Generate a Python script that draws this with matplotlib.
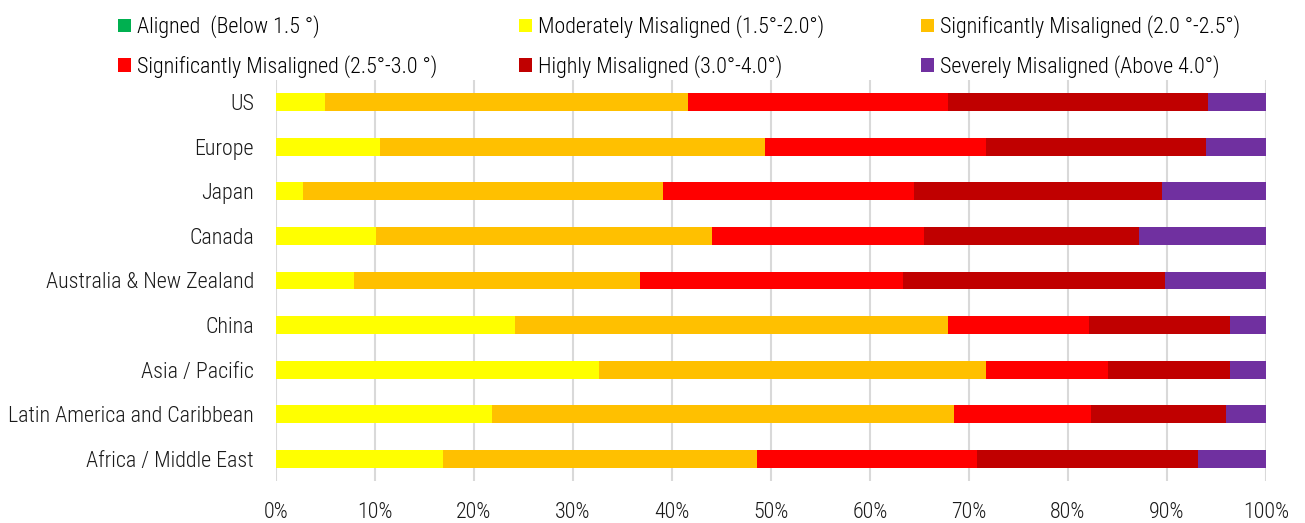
import matplotlib
matplotlib.use("Agg")
import matplotlib.pyplot as plt
from matplotlib.patches import Patch
from matplotlib.font_manager import FontProperties
import numpy as np

plt.rcParams['font.family'] = ['Roboto Condensed', 'DejaVu Sans']
plt.rcParams['font.weight'] = 300

regions = ["US", "Europe", "Japan", "Canada", "Australia & New Zealand", "China",
           "Asia / Pacific", "Latin America and Caribbean", "Africa / Middle East"]

aligned     = [0, 0, 0, 0, 0, 0, 0, 0, 0]
moderate    = [4.9, 10.5, 2.7, 10.1, 7.9, 24.1, 32.6, 21.8, 16.9]
sig_20_25   = [36.7, 38.9, 36.4, 33.9, 28.9, 43.8, 39.1, 46.7, 31.7]
sig_25_30   = [26.3, 22.3, 25.3, 21.5, 26.5, 14.2, 12.3, 13.8, 22.2]
highly      = [26.2, 22.2, 25.1, 21.7, 26.5, 14.3, 12.4, 13.7, 22.3]
severely    = [5.9, 6.1, 10.5, 12.8, 10.2, 3.6, 3.6, 4.0, 6.9]

labels = ["Aligned  (Below 1.5 °)",
          "Moderately Misaligned (1.5°-2.0°)",
          "Significantly Misaligned (2.0 °-2.5°)",
          "Significantly Misaligned (2.5°-3.0 °)",
          "Highly Misaligned (3.0°-4.0°)",
          "Severely Misaligned (Above 4.0°)"]
colors = ["#00B050", "#FFFF00", "#FFC000", "#FF0000", "#C00000", "#7030A0"]
xticks = [0, 10, 20, 30, 40, 50, 60, 70, 80, 90, 100]

series = [aligned, moderate, sig_20_25, sig_25_30, highly, severely]

FS = 15.8
fp = FontProperties(family=['Roboto Condensed', 'DejaVu Sans'], weight=300, size=FS)

fig = plt.figure(figsize=(13.05, 5.23), dpi=100)
ax = fig.add_axes([276/1305, 1-481/523, 990/1305, 401/523])

y = np.arange(len(regions))
left = np.zeros(len(regions))
for vals, col, lab in zip(series, colors, labels):
    v = np.array(vals, dtype=float)
    ax.barh(y, v, left=left, height=0.4, color=col, label=lab, zorder=3,
            edgecolor='none')
    left += v

ax.set_ylim(len(regions)-0.5, -0.5)
ax.set_xlim(0, 100)
ax.set_yticks(y)
ax.set_yticklabels(regions, fontproperties=fp, color='#1a1a1a')
ax.set_xticks(xticks)
ax.set_xticklabels([f"{t}%" for t in xticks], fontproperties=fp, color='#1a1a1a')
ax.tick_params(axis='both', length=0)
ax.tick_params(axis='x', pad=15)
ax.tick_params(axis='y', pad=16)
for s in ax.spines.values():
    s.set_visible(False)
ax.grid(axis='x', color='#D9D9D9', linewidth=1.5, zorder=0)
ax.set_axisbelow(True)

# legend: three columns, two rows each
col_x = [114, 515, 917]
for ci in range(3):
    idx = [ci, ci + 3]
    handles = [Patch(facecolor=colors[i], edgecolor='none') for i in idx]
    fig.legend(handles, [labels[i] for i in idx], loc='upper left',
               bbox_to_anchor=(col_x[ci]/1305, 1-11/523), frameon=False,
               prop=fp, handlelength=0.58, handleheight=0.58,
               handletextpad=0.28, labelspacing=0.75, borderaxespad=0,
               borderpad=0.2)

fig.savefig("out.png", dpi=100)
